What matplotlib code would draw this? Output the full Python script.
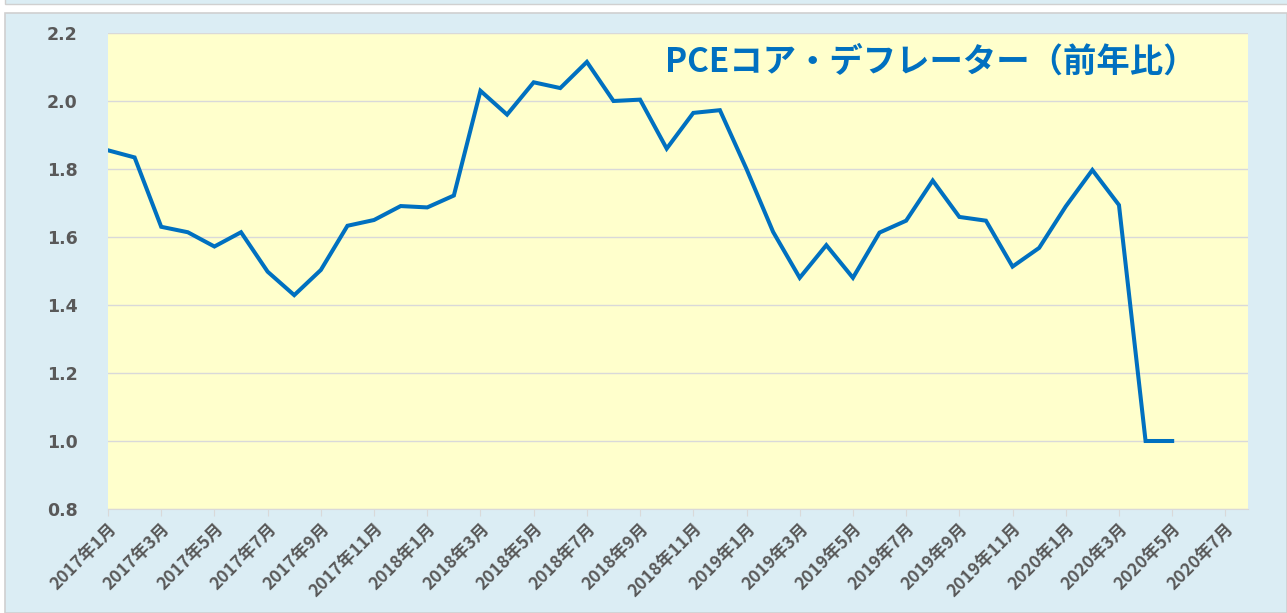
import matplotlib
matplotlib.use("Agg")
import matplotlib.pyplot as plt
from matplotlib.patches import Rectangle

plt.rcParams['font.family'] = ['Noto Sans CJK JP', 'DejaVu Sans']

months = [f"{2017 + i // 12}年{i % 12 + 1}月" for i in range(41)]
values = [1.855, 1.834, 1.63, 1.614, 1.572, 1.614, 1.498, 1.429, 1.503, 1.633,
          1.65, 1.691, 1.687, 1.722, 2.03, 1.96, 2.055, 2.038, 2.115, 2.0,
          2.004, 1.86, 1.965, 1.973, 1.80, 1.615, 1.48, 1.576, 1.48, 1.613,
          1.648, 1.766, 1.659, 1.648, 1.513, 1.568, 1.69, 1.797, 1.694, 1.0,
          1.0]
tick_labels = ["2017年1月", "2017年3月", "2017年5月", "2017年7月", "2017年9月",
               "2017年11月", "2018年1月", "2018年3月", "2018年5月", "2018年7月",
               "2018年9月", "2018年11月", "2019年1月", "2019年3月", "2019年5月",
               "2019年7月", "2019年9月", "2019年11月", "2020年1月", "2020年3月",
               "2020年5月", "2020年7月"]
title = "PCEコア・デフレーター（前年比）"
yticks = [0.8, 1.0, 1.2, 1.4, 1.6, 1.8, 2.0, 2.2]

fig = plt.figure(figsize=(12.87, 6.13), dpi=100, facecolor='white')
# chart area background
fig.add_artist(Rectangle((5 / 1287, 0), 1 - 5 / 1287, (613 - 13) / 613,
                         transform=fig.transFigure, facecolor='#dbedf4',
                         edgecolor='#d0d0d0', linewidth=1.2, zorder=-10))
fig.add_artist(Rectangle((5 / 1287, (613 - 4) / 613), 1, 0.02,
                         transform=fig.transFigure, facecolor='#dbedf4',
                         edgecolor='#d0d0d0', linewidth=1.0, zorder=-10))

ax = fig.add_axes([108 / 1287, (613 - 509) / 613, (1248 - 108) / 1287, (509 - 33) / 613])
ax.set_zorder(1)
ax.set_facecolor('#ffffcc')

x = list(range(len(values)))
ax.plot(x, values, color='#0070c0', linewidth=2.9, solid_joinstyle='miter', zorder=3)

ax.set_ylim(0.8, 2.2)
ax.set_yticks(yticks)
ax.set_yticklabels([f"{v:.1f}" for v in yticks], fontsize=12.5, fontweight='bold',
                   color='#595959', family='DejaVu Sans')
ax.yaxis.grid(True, color='#d9d9d9', linewidth=1.0)
ax.tick_params(axis='y', length=0, pad=22)

ax.set_xlim(0, 42.85)
tick_pos = [i * 2 for i in range(len(tick_labels))]
ax.set_xticks(tick_pos)
ax.set_xticklabels(tick_labels, rotation=45, ha='right', va='top',
                   rotation_mode='anchor', fontsize=12.5, fontweight='bold',
                   color='#595959')
ax.tick_params(axis='x', length=5, color='#d9d9d9', pad=3)

for s in ['top', 'right', 'left']:
    ax.spines[s].set_visible(False)
ax.spines['bottom'].set_color('#d9d9d9')
ax.set_axisbelow(True)

ax.text(0.722, 0.939, title, transform=ax.transAxes, ha='center', va='center',
        fontsize=24, fontweight='bold', color='#0070c0')

fig.savefig('out.png', dpi=100, facecolor='white')
